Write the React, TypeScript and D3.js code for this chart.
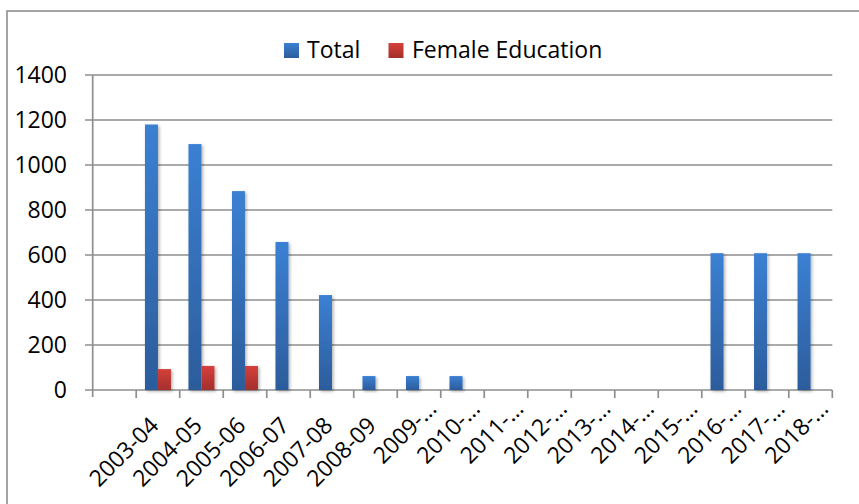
import React from "react";
import * as d3 from "d3";

const categories: string[] = [
  "", "2003-04", "2004-05", "2005-06", "2006-07", "2007-08", "2008-09",
  "2009-10", "2010-11", "2011-12", "2012-13", "2013-14", "2014-15",
  "2015-16", "2016-17", "2017-18", "2018-19",
];
const tickLabels: string[] = [
  "", "2003-04", "2004-05", "2005-06", "2006-07", "2007-08", "2008-09",
  "2009-…", "2010-…", "2011-…", "2012-…", "2013-…", "2014-…",
  "2015-…", "2016-…", "2017-…", "2018-…",
];
const totalValues: number[] = [0, 1180, 1093, 884, 658, 422, 62, 62, 62, 0, 0, 0, 0, 0, 608, 608, 608];
const femaleValues: number[] = [0, 93, 107, 107, 0, 0, 0, 0, 0, 0, 0, 0, 0, 0, 0, 0, 0];
const yTicks: number[] = [0, 200, 400, 600, 800, 1000, 1200, 1400];
const seriesNames: string[] = ["Total", "Female Education"];

const W = 859;
const H = 504;
const FONT = "'Open Sans', 'DejaVu Sans', sans-serif";
const GRID = "#8e8e8e";

export default function App() {
  const x = d3.scaleBand<string>().domain(categories).range([92.7, 832.3]).padding(0);
  const y = d3.scaleLinear().domain([0, 1400]).range([390, 75]);
  const barW = 13;
  const x0 = 92.7;
  const x1 = 832.3;

  return (
    <svg width={W} height={H} style={{ position: "absolute", left: 0, top: 0, background: "#fff" }}>
      <defs>
        <linearGradient id="gBlue" x1="0" y1="0" x2="0" y2="1">
          <stop offset="0" stopColor="#3b80d3" />
          <stop offset="1" stopColor="#2c5c9b" />
        </linearGradient>
        <linearGradient id="gRed" x1="0" y1="0" x2="0" y2="1">
          <stop offset="0" stopColor="#d5403b" />
          <stop offset="1" stopColor="#a32f2c" />
        </linearGradient>
        <filter id="shadow" x="-50%" y="-10%" width="200%" height="130%">
          <feDropShadow dx="1.5" dy="1.5" stdDeviation="1.5" floodColor="#000" floodOpacity="0.3" />
        </filter>
      </defs>

      <rect x={7} y={11} width={W} height={H} fill="#fff" stroke={GRID} strokeWidth={1.6} />

      {/* gridlines */}
      {yTicks.map((t) => (
        <line key={"g" + t} x1={85} x2={x1} y1={y(t)} y2={y(t)} stroke={GRID} strokeWidth={1.7} />
      ))}
      {/* y axis */}
      <line x1={x0} x2={x0} y1={y(1400)} y2={397} stroke={GRID} strokeWidth={1.7} />
      {/* x ticks */}
      {categories.map((c, i) => {
        const xx = (x(c) as number) + x.bandwidth();
        return <line key={"t" + i} x1={xx} x2={xx} y1={y(0)} y2={398} stroke={GRID} strokeWidth={1.7} />;
      })}

      {/* y labels */}
      {yTicks.map((t) => (
        <text key={"yl" + t} x={67} y={y(t)} dy="0.36em" textAnchor="end" fontFamily={FONT} fontSize={23} fill="#000">
          {t}
        </text>
      ))}

      {/* bars */}
      {categories.map((c, i) => {
        const cx = (x(c) as number) + x.bandwidth() / 2;
        const tv = totalValues[i];
        const fv = femaleValues[i];
        return (
          <g key={"b" + i} filter="url(#shadow)">
            {tv > 0 && <rect x={cx - barW} y={y(tv)} width={barW} height={y(0) - y(tv)} fill="url(#gBlue)" />}
            {fv > 0 && <rect x={cx} y={y(fv)} width={barW} height={y(0) - y(fv)} fill="url(#gRed)" />}
          </g>
        );
      })}

      {/* x labels */}
      {categories.map((c, i) => {
        const lab = tickLabels[i];
        if (!lab) return null;
        const cx = (x(c) as number) + x.bandwidth() / 2;
        const trunc = lab.includes("…");
        const bx = cx + (trunc ? 19 : 2);
        const by = trunc ? 410 : 427;
        return (
          <text key={"xl" + i} transform={`translate(${bx},${by}) rotate(-45)`} textAnchor="end" fontFamily={FONT} fontSize={23} fill="#000">
            {lab}
          </text>
        );
      })}

      {/* legend */}
      <rect x={284} y={43} width={15} height={15} fill="url(#gBlue)" />
      <text x={307} y={58.3} fontFamily={FONT} fontSize={23} fill="#000">{seriesNames[0]}</text>
      <rect x={388.5} y={43} width={15} height={15} fill="url(#gRed)" />
      <text x={412} y={58.3} fontFamily={FONT} fontSize={23} fill="#000">{seriesNames[1]}</text>
    </svg>
  );
}
